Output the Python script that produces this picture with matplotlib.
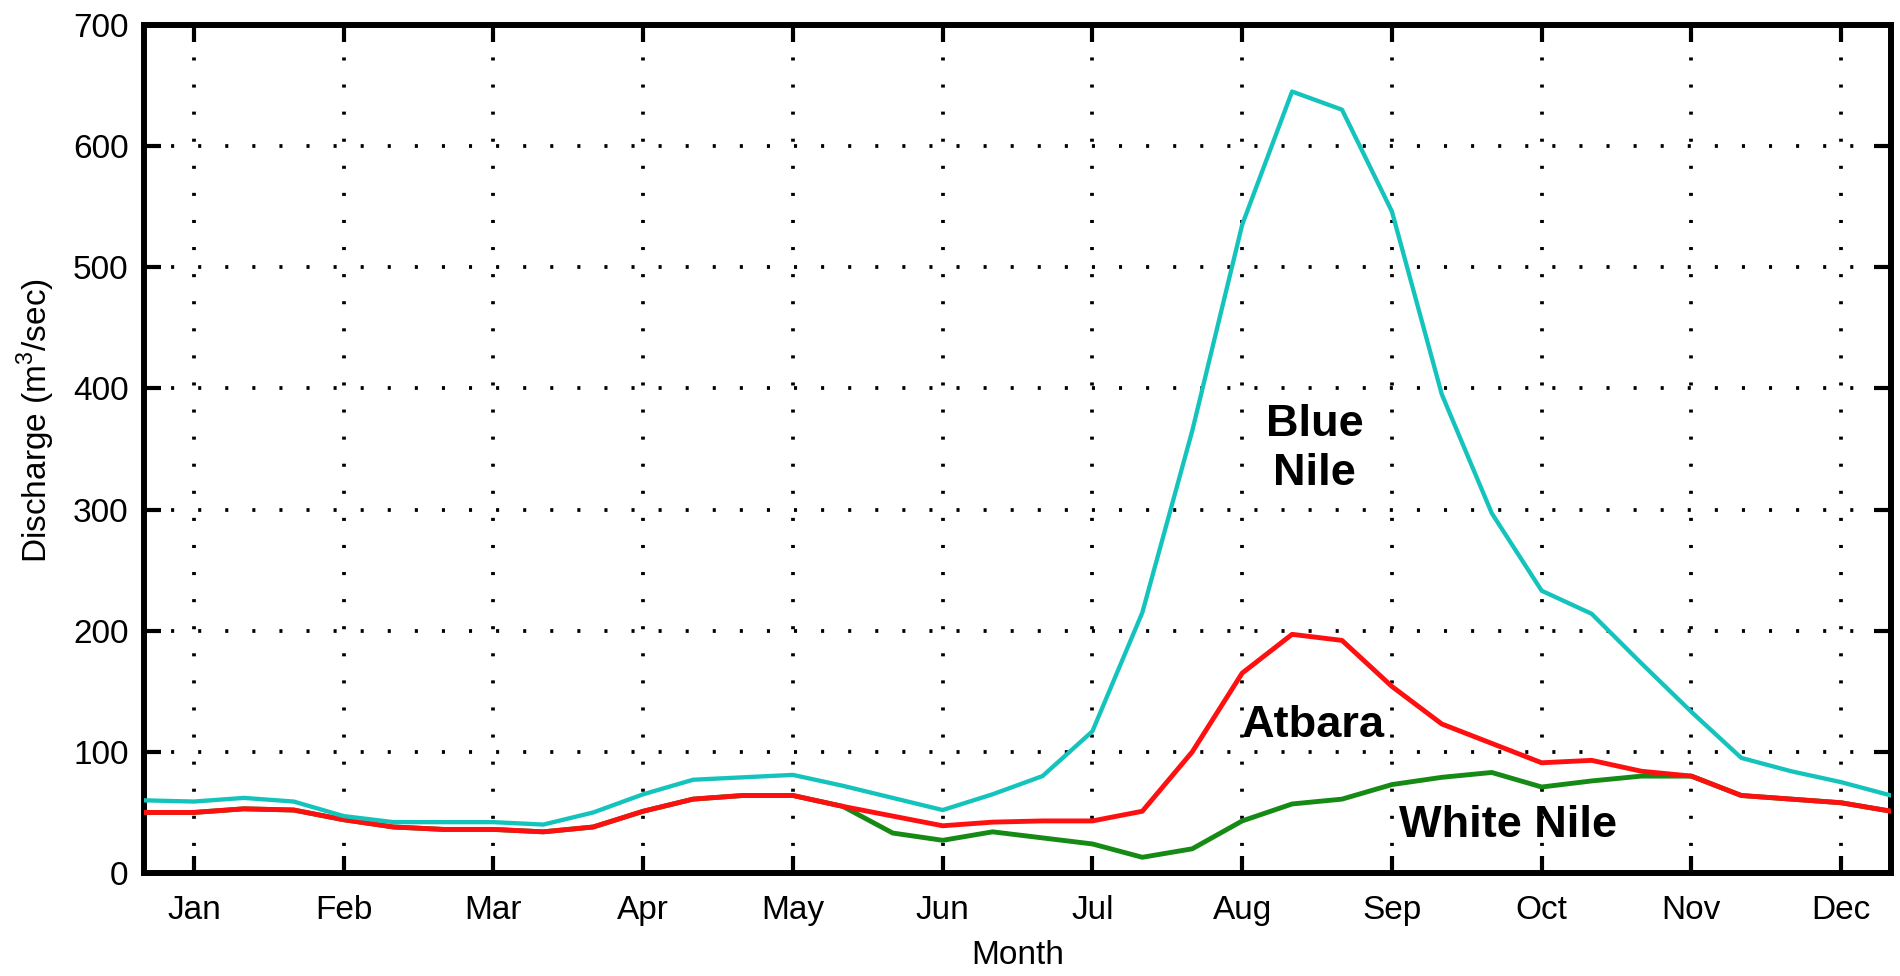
import numpy as np
import matplotlib
matplotlib.use("Agg")
import matplotlib.pyplot as plt

plt.rcParams['font.family'] = ['Liberation Sans', 'DejaVu Sans']
plt.rcParams['mathtext.fontset'] = 'custom'
plt.rcParams['mathtext.rm'] = 'Liberation Sans'
plt.rcParams['lines.scale_dashes'] = False

# ten-day periods (3 per month), 36 in a year
dekad = np.arange(1, 37)
months = ['Jan', 'Feb', 'Mar', 'Apr', 'May', 'Jun',
          'Jul', 'Aug', 'Sep', 'Oct', 'Nov', 'Dec']
month_ticks = np.arange(2, 37, 3)

blue_nile = [60, 59, 62, 59, 47, 42, 42, 42, 40, 50, 65, 77,
             79, 81, 72, 62, 52, 65, 80, 117, 215, 365, 535, 645,
             630, 546, 395, 297, 233, 214, 173, 133, 95, 84, 75, 64]
atbara = [50, 50, 53, 52, 44, 38, 36, 36, 34, 38, 51, 61,
          64, 64, 55, 47, 39, 42, 43, 43, 51, 100, 165, 197,
          192, 154, 123, 107, 91, 93, 84, 80, 64, 61, 58, 51]
white_nile = [50, 50, 53, 52, 44, 38, 36, 36, 34, 38, 51, 61,
              64, 64, 55, 33, 27, 34, 29, 24, 13, 20, 43, 57,
              61, 73, 79, 83, 71, 76, 80, 80, 64, 61, 58, 51]

fig = plt.figure(figsize=(19, 9.76), dpi=100)
ax = fig.add_axes([0.0758, 0.1055, 0.9195, 0.869])

ax.plot(dekad, white_nile, color='#158a15', lw=3.5, zorder=3)
ax.plot(dekad, atbara, color='#ff1010', lw=3.5, zorder=4)
ax.plot(dekad, blue_nile, color='#14c4bc', lw=3.1, zorder=5)

ax.set_xlim(1, 36)
ax.set_ylim(0, 700)
ax.set_xticks(month_ticks)
ax.set_xticklabels(months)
ax.set_yticks(np.arange(0, 701, 100))

ax.grid(True, color='black', lw=2.7, linestyle=(0, (2.2, 17.3)), zorder=1)
ax.set_axisbelow(True)

for s in ax.spines.values():
    s.set_linewidth(4.3)
ax.tick_params(direction='in', length=12, width=3, labelsize=24,
               top=True, right=True)
ax.tick_params(axis='y', pad=11)
ax.tick_params(axis='x', pad=16)

ax.set_xlabel('Month', fontsize=24, labelpad=10)
ax.set_ylabel(r'Discharge (m$^\mathrm{3}$/sec)', fontsize=24)
ax.yaxis.set_label_coords(-0.05, 0.534)

ax.text(24.45, 350, 'Blue\nNile', fontsize=32.5, fontweight='bold',
        ha='center', va='center', multialignment='center',
        linespacing=1.25, zorder=6)
ax.text(23.0, 122, 'Atbara', fontsize=32.5, fontweight='bold',
        ha='left', va='center', zorder=6)
ax.text(26.15, 39, 'White Nile', fontsize=32.5, fontweight='bold',
        ha='left', va='center', zorder=6)

fig.savefig('out.png', dpi=100)
